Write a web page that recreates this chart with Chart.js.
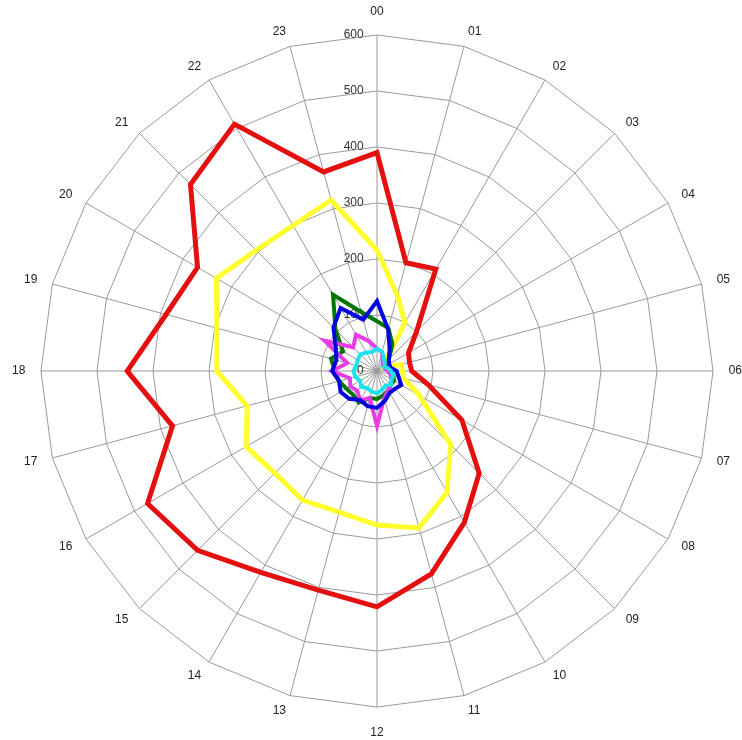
<!DOCTYPE html>
<html>
<head>
<meta charset="utf-8">
<script src="https://cdn.jsdelivr.net/npm/chart.js@4"></script>
<style>
  html, body { margin: 0; padding: 0; background: #fff; }
  #wrap { width: 742px; height: 740px; }
</style>
</head>
<body>
<div id="wrap"><canvas id="myChart" width="742" height="740"></canvas></div>
<script>
// hours round the dial
const hours = ['00','01','02','03','04','05','06','07','08','09','10','11',
               '12','13','14','15','16','17','18','19','20','21','22','23'];

// radial ticks
const tickValues = [0, 100, 200, 300, 400, 500, 600];

// series (00 .. 23)
const redVals     = [390, 200, 210, 100, 65, 60, 62, 95, 175, 258, 312, 375,
                     421, 405, 415, 453, 473, 378, 446, 390, 370, 471, 509, 368];
const yellowVals  = [216, 140, 100, 20, 15, 45, 45, 50, 87, 186, 250, 290,
                     275, 261, 266, 258, 270, 240, 286, 296, 331, 305, 300, 316];
const greenVals   = [89, 79, 55, 30, 20, 20, 25, 30, 35, 35, 40, 45,
                     50, 50, 65, 60, 63, 70, 75, 85, 70, 105, 157, 109];
const blueVals    = [125, 77, 45, 30, 25, 25, 35, 40, 50, 45, 45, 55,
                     66, 65, 60, 70, 75, 70, 80, 75, 85, 110, 130, 95];
const magentaVals = [40, 35, 20, 15, 15, 15, 20, 25, 30, 35, 40, 50,
                     98, 50, 60, 50, 55, 50, 80, 55, 108, 60, 75, 55];
const cyanVals    = [40, 35, 25, 20, 15, 20, 25, 30, 30, 35, 30, 35,
                     40, 38, 35, 40, 35, 40, 42, 38, 40, 42, 38, 35];

const FIG = '\u2007';

function line(label, data, color, width){
    return {
        label: label,
        data: data,
        borderColor: color,
        backgroundColor: color,
        borderWidth: width,
        pointRadius: 0,
        pointHitRadius: 0,
        fill: false,
        tension: 0
    };
}

// top and bottom hour labels stand a bit further out than the rest
function labelPad(c){
    if (c.index === 0) return 15;
    if (c.index === 12) return 18;
    return 7.6;
}

const ctx = document.getElementById('myChart').getContext('2d');
const myChart = new Chart(ctx, {
    type: 'radar',
    data: {
        labels: hours,
        datasets: [
            line('cyan', cyanVals, 'rgb(30,225,240)', 4),
            line('blue', blueVals, 'rgb(0,0,225)', 4),
            line('magenta', magentaVals, 'rgb(232,60,232)', 4),
            line('green', greenVals, 'rgb(0,118,0)', 4),
            line('yellow', yellowVals, 'rgb(255,255,45)', 5),
            line('red', redVals, 'rgb(228,16,16)', 5)
        ]
    },
    options: {
        responsive: false,
        animation: false,
        layout: { padding: { top: 6, bottom: 0, left: 12, right: 0 } },
        plugins: {
            legend: { display: false },
            tooltip: { enabled: false }
        },
        scales: {
            r: {
                min: -0.001,   // keeps the "0" tick label visible
                max: 600,
                afterBuildTicks: (axis) => { axis.ticks = tickValues.map(v => ({ value: v })); },
                ticks: {
                    showLabelBackdrop: false,
                    color: '#333',
                    font: { family: 'Liberation Sans', size: 12 },
                    callback: (v) => String(v).padStart(3, FIG) + FIG.repeat(7)
                },
                grid: { color: '#9a9a9a', lineWidth: 1 },
                angleLines: { color: '#9a9a9a', lineWidth: 1 },
                pointLabels: {
                    color: '#222',
                    padding: labelPad,
                    // near-zero line height: labels end up vertically centred on their spot
                    font: { family: 'Liberation Sans', size: 12, lineHeight: 0.01 }
                }
            }
        }
    }
});
</script>
</body>
</html>
